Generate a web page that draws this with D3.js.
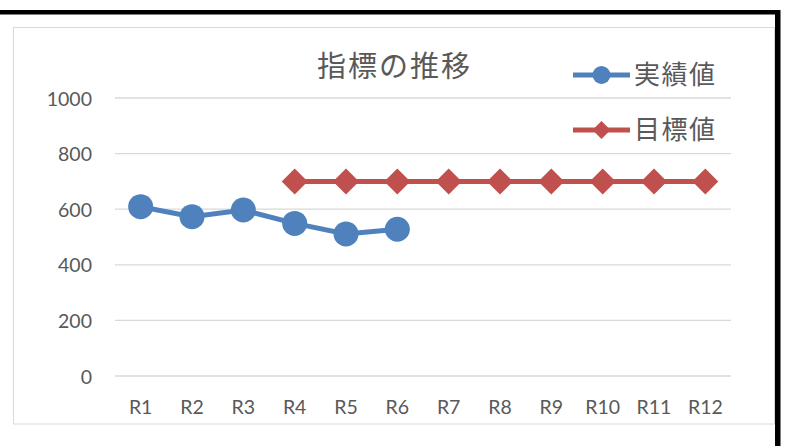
<!DOCTYPE html>
<html><head><meta charset="utf-8">
<script src="https://cdn.jsdelivr.net/npm/d3@7"></script>
<style>
html,body{margin:0;padding:0;background:#fff;}
svg{display:block;}
</style></head>
<body>
<svg id="c" width="788" height="446"></svg>
<script>
const categories = ["R1","R2","R3","R4","R5","R6","R7","R8","R9","R10","R11","R12"];
const actualValues = [609, 573, 597, 549, 511, 528, null, null, null, null, null, null];
const targetValues = [null, null, null, 700, 700, 700, 700, 700, 700, 700, 700, 700];
const yTicks = [0, 200, 400, 600, 800, 1000];
const seriesNames = ["実績値", "目標値"];
const title = "指標の推移";

const svg = d3.select("#c");
const textColor = "#595959";
const latin = "Lato, 'Open Sans', sans-serif";
const cjk = "'Noto Sans CJK JP', sans-serif";

// frame
svg.append("rect").attr("x",13.5).attr("y",27.5).attr("width",761).attr("height",396.5)
  .attr("fill","#fff").attr("stroke","#d9d9d9").attr("stroke-width",1);
svg.append("rect").attr("x",0).attr("y",10).attr("width",780).attr("height",4.5).attr("fill","#000");
svg.append("rect").attr("x",775).attr("y",10).attr("width",5.5).attr("height",436).attr("fill","#000");

const x = d3.scaleBand().domain(categories).range([115,731]);
const y = d3.scaleLinear().domain([0,1000]).range([376,98]);
const cx = d => x(d) + x.bandwidth()/2;

// gridlines
svg.append("g").selectAll("line").data(yTicks).join("line")
  .attr("x1",115).attr("x2",731).attr("y1",d=>y(d)).attr("y2",d=>y(d))
  .attr("stroke","#d9d9d9").attr("stroke-width",1.3);

// y axis
const yAxis = d3.axisLeft(y).tickValues(yTicks).tickFormat(d3.format("d")).tickSize(0).tickPadding(0);
const gy = svg.append("g").attr("transform","translate(92,0)").call(yAxis);
gy.select(".domain").remove();
gy.selectAll("text").attr("font-family",latin).attr("font-size",19.5).attr("fill",textColor).attr("dy","0.36em");

// x axis
const xAxis = d3.axisBottom(x).tickSize(0).tickPadding(0);
const gx = svg.append("g").attr("transform","translate(0,400)").call(xAxis);
gx.select(".domain").remove();
gx.selectAll("text").attr("font-family",latin).attr("font-size",19.5).attr("fill",textColor).attr("dy","0.72em");

// title
svg.append("text").attr("x",394.5).attr("y",77).attr("text-anchor","middle")
  .attr("font-family",cjk).attr("font-size",29).attr("letter-spacing",2).attr("fill",textColor).text(title);

const blue = "#4f81bd", red = "#c0504d";
const line = d3.line().defined(d=>d.v!=null).x(d=>cx(d.c)).y(d=>y(d.v));
const actual = categories.map((c,i)=>({c, v:actualValues[i]}));
const target = categories.map((c,i)=>({c, v:targetValues[i]}));

svg.append("path").datum(target).attr("d",line).attr("fill","none").attr("stroke",red).attr("stroke-width",5);
const diamond = (r)=>`M0,${-r}L${r},0L0,${r}L${-r},0Z`;
svg.append("g").selectAll("path").data(target.filter(d=>d.v!=null)).join("path")
  .attr("transform",d=>`translate(${cx(d.c)},${y(d.v)})`).attr("d",diamond(13)).attr("fill",red);

svg.append("path").datum(actual).attr("d",line).attr("fill","none").attr("stroke",blue).attr("stroke-width",5);
svg.append("g").selectAll("circle").data(actual.filter(d=>d.v!=null)).join("circle")
  .attr("cx",d=>cx(d.c)).attr("cy",d=>y(d.v)).attr("r",12.5).attr("fill",blue);

// legend
const legY = [75, 130];
const legend = svg.append("g");
seriesNames.forEach((name,i)=>{
  const col = i===0?blue:red;
  const yy = legY[i];
  legend.append("line").attr("x1",573).attr("x2",630).attr("y1",yy).attr("y2",yy).attr("stroke",col).attr("stroke-width",5);
  if(i===0) legend.append("circle").attr("cx",601.5).attr("cy",yy).attr("r",9).attr("fill",col);
  else legend.append("path").attr("transform",`translate(601.5,${yy})`).attr("d",diamond(9)).attr("fill",col);
  legend.append("text").attr("x",634).attr("y",yy+9).attr("font-family",cjk).attr("font-size",26)
    .attr("letter-spacing",1.5).attr("fill",textColor).text(name);
});
</script>
</body></html>
